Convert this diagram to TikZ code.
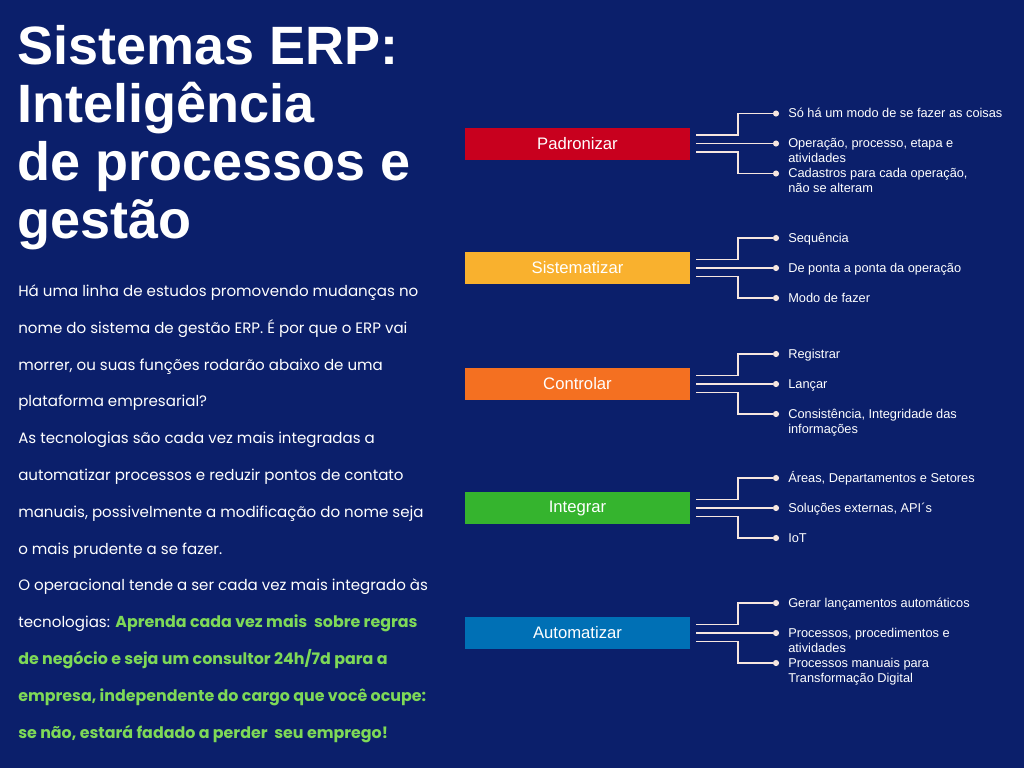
\documentclass[tikz,border=0pt]{standalone}
\usepackage{fontspec}
\setmainfont{Poppins}
\newfontfamily\labelfont{Liberation Sans}
\usepackage{tikz}
\usetikzlibrary{positioning}

\definecolor{bgblue}{HTML}{0B1F6B}
\definecolor{linkpink}{HTML}{F6E6E0}
\definecolor{textgreen}{HTML}{7ED957}
\definecolor{cpad}{HTML}{C8001E}
\definecolor{csis}{HTML}{F9B12E}
\definecolor{ccon}{HTML}{F47021}
\definecolor{cint}{HTML}{35B42E}
\definecolor{caut}{HTML}{0070B5}

\newcommand{\greenbit}[1]{{\color{textgreen}\fontsize{11.9}{27.6}\selectfont\bfseries #1}}
% first line of an item sits on the node's base
\newcommand{\itemlines}[1]{\begin{tabular}[t]{@{}l@{}}#1\end{tabular}}

\begin{document}
\begin{tikzpicture}[x=0.75pt,y=-0.75pt,inner sep=0pt,
  box/.style={minimum width=168.75pt,minimum height=24pt,text=white,font=\labelfont\fontsize{12.5}{14}\selectfont},
  item/.style={anchor=base west,text=white,font=\labelfont\fontsize{9.6}{11.3}\selectfont},
  link/.style={draw=linkpink,line width=1.3pt},
  dot/.style={circle,fill=linkpink,minimum size=4.6pt}]

\fill[bgblue] (0,0) rectangle (1024,768);
\useasboundingbox (0,0) rectangle (1024,768);

% multi-line nodes sit on the baseline of their last line
\node[anchor=base west,align=left,text=white,font=\labelfont\fontsize{40.5}{43.5}\selectfont\bfseries] (title) at (17,238)
  {Sistemas ERP:\\Inteligência\\de processos e\\gestão};

\node[anchor=base west,align=left,text=white,font=\fontsize{11.3}{27.6}\selectfont] (body) at (18,738)
  {Há uma linha de estudos promovendo mudanças no\\
   nome do sistema de gestão ERP. É por que o ERP vai\\
   morrer, ou suas funções rodarão abaixo de uma\\
   plataforma empresarial?\\
   As tecnologias são cada vez mais integradas a\\
   automatizar processos e reduzir pontos de contato\\
   manuais, possivelmente a modificação do nome seja\\
   o mais prudente a se fazer.\\
   O operacional tende a ser cada vez mais integrado às\\
   tecnologias: \greenbit{Aprenda cada vez mais \ sobre regras}\\
   \greenbit{de negócio e seja um consultor 24h/7d para a}\\
   \greenbit{empresa, independente do cargo que você ocupe:}\\
   \greenbit{se não, estará fadado a perder \ seu emprego!}};

\foreach \name/\text/\y in {pad/Padronizar/143.5, sis/Sistematizar/268, con/Controlar/384, int/Integrar/508, aut/Automatizar/633}
  \node[box,fill=c\name] (\name) at (577.5,\y) {\text};

\foreach \name/\ta/\tb/\tc in {
  pad/{Só há um modo de se fazer as coisas}/{Operação, processo, etapa e\\atividades}/{Cadastros para cada operação,\\não se alteram},
  sis/{Sequência}/{De ponta a ponta da operação}/{Modo de fazer},
  con/{Registrar}/{Lançar}/{Consistência, Integridade das\\informações},
  int/{Áreas, Departamentos e Setores}/{Soluções externas, API´s}/{IoT},
  aut/{Gerar lançamentos automáticos}/{Processos, procedimentos e\\atividades}/{Processos manuais para\\Transformação Digital}}
{
  \node[dot] (\name-a) at ([shift={(198.5,-30)}]\name.center) {};
  \node[dot] (\name-b) at ([shift={(198.5,0)}]\name.center) {};
  \node[dot] (\name-c) at ([shift={(198.5,30)}]\name.center) {};
  \node[item] (\name-ta) at ([shift={(12,4)}]\name-a.center) {\itemlines{\ta}};
  \node[item] (\name-tb) at ([shift={(12,4)}]\name-b.center) {\itemlines{\tb}};
  \node[item] (\name-tc) at ([shift={(12,4)}]\name-c.center) {\itemlines{\tc}};
  \draw[link] ([shift={(6,-8.4)}]\name.east) -- ++(42,0) |- (\name-a);
  \draw[link] ([shift={(6,0)}]\name.east) -- (\name-b);
  \draw[link] ([shift={(6,8.4)}]\name.east) -- ++(42,0) |- (\name-c);
}

\end{tikzpicture}
\end{document}
